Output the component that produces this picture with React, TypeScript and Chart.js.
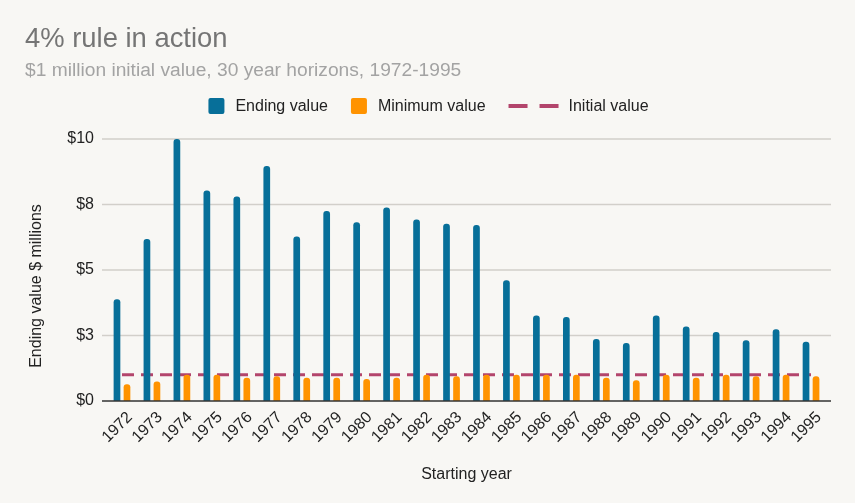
import React, { useEffect, useRef } from 'react';
import { Chart, registerables } from 'chart.js';

Chart.register(...registerables);

// Starting years of each 30-year horizon
const years = [
  '1972', '1973', '1974', '1975', '1976', '1977', '1978', '1979',
  '1980', '1981', '1982', '1983', '1984', '1985', '1986', '1987',
  '1988', '1989', '1990', '1991', '1992', '1993', '1994', '1995',
];

// Portfolio value after 30 years ($ millions)
const endingValue = [
  3.88, 6.18, 10.0, 8.03, 7.81, 8.97, 6.28, 7.25,
  6.82, 7.39, 6.93, 6.77, 6.72, 4.61, 3.26, 3.21,
  2.37, 2.21, 3.26, 2.84, 2.63, 2.32, 2.74, 2.26,
];

// Lowest value reached during the horizon ($ millions)
const minimumValue = [
  0.64, 0.74, 1.0, 1.0, 0.89, 0.94, 0.89, 0.89,
  0.84, 0.89, 1.0, 0.94, 1.0, 1.0, 1.0, 1.0,
  0.89, 0.79, 1.0, 0.89, 1.0, 0.94, 1.0, 0.94,
];

// Starting balance ($ millions)
const initialValue = [
  1, 1, 1, 1, 1, 1, 1, 1,
  1, 1, 1, 1, 1, 1, 1, 1,
  1, 1, 1, 1, 1, 1, 1, 1,
];

const yTicks = [0, 2.5, 5, 7.5, 10];

const TITLE = '4% rule in action';
const SUBTITLE = '$1 million initial value, 30 year horizons, 1972-1995';
const X_TITLE = 'Starting year';
const Y_TITLE = 'Ending value $ millions';

const FONT = '"Liberation Sans", Arial, Helvetica, sans-serif';
const BG = '#f8f7f4';
const BLUE = '#076f99';
const ORANGE = '#ff9300';
const ROSE = '#b3456c';
const GRID = '#d2cfca';
const TEXT = '#222222';

const decorPlugin = {
  id: 'decor',
  beforeDraw(chart: any) {
    const { ctx, width, height } = chart;
    ctx.save();
    ctx.fillStyle = BG;
    ctx.fillRect(0, 0, width, height);
    ctx.restore();
  },
  beforeDatasetsDraw(chart: any) {
    const { ctx, chartArea, scales } = chart;
    const y = scales.y;
    ctx.save();
    ctx.strokeStyle = GRID;
    ctx.lineWidth = 1.5;
    for (const v of yTicks) {
      if (v === 0) continue;
      const py = y.getPixelForValue(v);
      ctx.beginPath();
      ctx.moveTo(chartArea.left - 5, py);
      ctx.lineTo(chartArea.right + 5, py);
      ctx.stroke();
    }
    ctx.restore();
  },
  afterDatasetsDraw(chart: any) {
    const { ctx, chartArea, scales } = chart;
    const py = scales.y.getPixelForValue(0);
    ctx.save();
    ctx.strokeStyle = '#333333';
    ctx.lineWidth = 1.5;
    ctx.beginPath();
    ctx.moveTo(chartArea.left - 5, py);
    ctx.lineTo(chartArea.right + 5, py);
    ctx.stroke();
    ctx.restore();
  },
  afterDraw(chart: any) {
    const { ctx, chartArea } = chart;
    ctx.save();
    ctx.textAlign = 'left';
    ctx.textBaseline = 'alphabetic';

    // Title and subtitle
    ctx.fillStyle = '#757575';
    ctx.font = `27.4px ${FONT}`;
    ctx.fillText(TITLE, 25, 46.5);
    ctx.fillStyle = '#a3a3a3';
    ctx.font = `19.2px ${FONT}`;
    ctx.fillText(SUBTITLE, 25, 76);

    // Legend row
    ctx.font = `16px ${FONT}`;
    const ds = chart.data.datasets;
    const items = ds.map((d: any) => ({
      label: d.label,
      line: d.type === 'line',
      color: d.type === 'line' ? d.borderColor : d.backgroundColor,
    }));
    const gap = 23;
    const widths = items.map((it: any) =>
      (it.line ? 60 : 27) + ctx.measureText(it.label).width);
    const total = widths.reduce((a: number, b: number) => a + b, 0) + gap * (items.length - 1);
    let x = 428.5 - total / 2;
    items.forEach((it: any, i: number) => {
      if (it.line) {
        ctx.strokeStyle = it.color;
        ctx.lineWidth = 4;
        ctx.beginPath();
        ctx.moveTo(x, 106);
        ctx.lineTo(x + 19, 106);
        ctx.moveTo(x + 31, 106);
        ctx.lineTo(x + 50, 106);
        ctx.stroke();
        ctx.fillStyle = TEXT;
        ctx.fillText(it.label, x + 60, 110.5);
      } else {
        ctx.fillStyle = it.color;
        ctx.beginPath();
        ctx.roundRect(x, 98, 16, 16, 2);
        ctx.fill();
        ctx.fillStyle = TEXT;
        ctx.fillText(it.label, x + 27, 110.5);
      }
      x += widths[i] + gap;
    });

    // Axis titles
    ctx.fillStyle = TEXT;
    ctx.textAlign = 'center';
    ctx.fillText(X_TITLE, (chartArea.left + chartArea.right) / 2, 479);
    ctx.translate(41, 286);
    ctx.rotate(-Math.PI / 2);
    ctx.fillText(Y_TITLE, 0, 0);
    ctx.restore();
  },
};

export default function App() {
  const canvasRef = useRef<HTMLCanvasElement | null>(null);

  useEffect(() => {
    const canvas = canvasRef.current;
    if (!canvas) return;
    const chart = new Chart(canvas, {
      type: 'bar',
      data: {
        labels: years,
        datasets: [
          {
            type: 'bar',
            label: 'Ending value',
            data: endingValue,
            backgroundColor: BLUE,
            borderRadius: { topLeft: 3, topRight: 3, bottomLeft: 0, bottomRight: 0 },
            borderSkipped: false,
            categoryPercentage: 0.668,
            barPercentage: 0.67,
            order: 1,
          },
          {
            type: 'bar',
            label: 'Minimum value',
            data: minimumValue,
            backgroundColor: ORANGE,
            borderRadius: { topLeft: 3, topRight: 3, bottomLeft: 0, bottomRight: 0 },
            borderSkipped: false,
            categoryPercentage: 0.668,
            barPercentage: 0.67,
            order: 2,
          },
          {
            type: 'line',
            label: 'Initial value',
            data: initialValue,
            borderColor: ROSE,
            backgroundColor: ROSE,
            borderWidth: 3,
            borderDash: [12, 7],
            pointRadius: 0,
            fill: false,
            order: 3,
          },
        ],
      } as any,
      options: {
        responsive: false,
        animation: false,
        layout: { padding: { top: 139, right: 29, bottom: 0, left: 0 } },
        plugins: {
          legend: { display: false },
          title: { display: false },
          tooltip: { enabled: false },
        },
        scales: {
          x: {
            grid: { display: false },
            border: { display: false },
            ticks: {
              autoSkip: false,
              maxRotation: 45,
              minRotation: 45,
              color: TEXT,
              font: { family: FONT, size: 16 },
              padding: -1,
              labelOffset: 8,
            },
            afterFit(scale: any) {
              scale.height = 102;
            },
          },
          y: {
            min: 0,
            max: 10,
            grid: { display: false },
            border: { display: false },
            afterBuildTicks(scale: any) {
              scale.ticks = yTicks.map((v) => ({ value: v }));
            },
            ticks: {
              color: TEXT,
              font: { family: FONT, size: 16 },
              padding: 5,
              callback: (v: any) => '$' + Math.round(Number(v)),
            },
            afterFit(scale: any) {
              scale.width = 107;
            },
          },
        },
      } as any,
      plugins: [decorPlugin],
    });
    return () => chart.destroy();
  }, []);

  return (
    <div style={{ position: 'fixed', left: 0, top: 0, width: 855, height: 503, background: BG }}>
      <canvas ref={canvasRef} width={855} height={503} style={{ display: 'block' }} />
    </div>
  );
}
